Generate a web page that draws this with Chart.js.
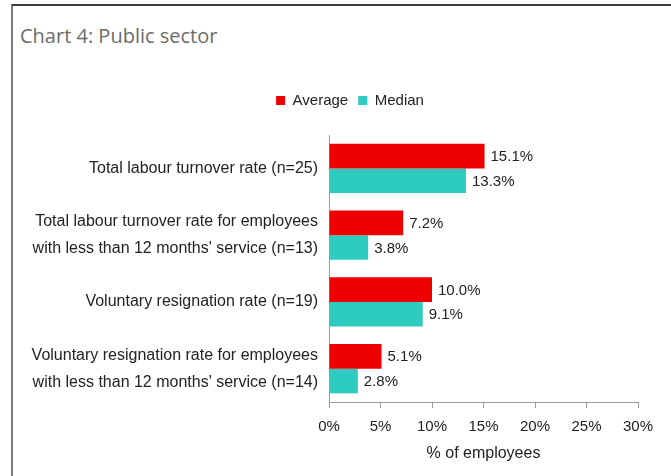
<!DOCTYPE html>
<html>
<head>
<meta charset="utf-8">
<script src="https://cdn.jsdelivr.net/npm/chart.js@4"></script>
<style>
  html, body { margin: 0; padding: 0; background: #fff; }
  #wrap { position: relative; width: 671px; height: 476px; overflow: hidden; }
  #frame {
    position: absolute; left: 11px; top: 4px; right: -4px; bottom: -4px;
    border-top: 2px solid #3c3c3c; border-left: 2px solid #7a7a7a;
  }
  #heading {
    position: absolute; left: 20px; top: 22px;
    font: 20px "Open Sans", "Noto Sans", sans-serif; color: #6b6b6b;
  }
  canvas { position: absolute; left: 0; top: 0; }
</style>
</head>
<body>
<div id="wrap">
  <div id="frame"></div>
  <div id="heading">Chart 4: Public sector</div>
  <canvas id="turnoverChart" width="671" height="476"></canvas>
</div>
<script>
const categories = [
  "Total labour turnover rate (n=25)",
  ["Total labour turnover rate for employees", "with less than 12 months' service (n=13)"],
  "Voluntary resignation rate (n=19)",
  ["Voluntary resignation rate for employees", "with less than 12 months' service (n=14)"]
];
const averageValues = [15.1, 7.2, 10.0, 5.1];
const medianValues = [13.3, 3.8, 9.1, 2.8];
const seriesNames = ["Average", "Median"];
const xTicks = [0, 5, 10, 15, 20, 25, 30];

const baseFont = "'Liberation Sans', Arial, sans-serif";

// a bit more room under the legend, and keep it centred over the plot side
const legendTweak = {
  id: "legendTweak",
  beforeInit(chart) {
    const fit = chart.legend.fit;
    chart.legend.fit = function () {
      fit.bind(chart.legend)();
      this.height += 17;
    };
  },
  afterLayout(chart) {
    chart.legend.left += 62;
  }
};

// value labels at the end of each bar
const barValues = {
  id: "barValues",
  afterDatasetsDraw(chart) {
    const ctx = chart.ctx;
    ctx.save();
    ctx.font = "15px " + baseFont;
    ctx.fillStyle = "#222";
    ctx.textAlign = "left";
    ctx.textBaseline = "middle";
    chart.data.datasets.forEach(function (ds, i) {
      chart.getDatasetMeta(i).data.forEach(function (bar, j) {
        ctx.fillText(ds.data[j].toFixed(1) + "%", bar.x + 6, bar.y + 1);
      });
    });
    ctx.restore();
  }
};

new Chart(document.getElementById("turnoverChart"), {
  type: "bar",
  data: {
    labels: categories,
    datasets: [
      { label: seriesNames[0], data: averageValues, backgroundColor: "#ee0000" },
      { label: seriesNames[1], data: medianValues, backgroundColor: "#2ecbc0" }
    ]
  },
  options: {
    indexAxis: "y",
    responsive: false,
    animation: false,
    categoryPercentage: 0.74,
    barPercentage: 1.0,
    layout: { padding: { left: 0, right: 33, top: 83, bottom: 11 } },
    plugins: {
      tooltip: { enabled: false },
      legend: {
        position: "top",
        labels: {
          boxWidth: 9,
          boxHeight: 9,
          padding: 10,
          color: "#222",
          font: { size: 15, family: baseFont }
        }
      }
    },
    scales: {
      x: {
        min: 0,
        max: 30,
        afterBuildTicks(scale) {
          scale.ticks = xTicks.map(v => ({ value: v }));
        },
        ticks: {
          callback: v => v + "%",
          color: "#222",
          padding: 10,
          maxRotation: 0,
          font: { size: 15, family: baseFont }
        },
        grid: { drawOnChartArea: false, drawTicks: true, tickLength: 6, color: "#9a9a9a" },
        border: { color: "#9a9a9a" },
        title: {
          display: true,
          text: "% of employees",
          color: "#222",
          padding: { top: 0, bottom: 3 },
          font: { size: 16, family: baseFont, lineHeight: 1.0 }
        }
      },
      y: {
        afterFit(scale) {
          scale.width = 329;
        },
        grid: { display: false, drawTicks: false },
        border: { display: true, color: "#9a9a9a" },
        ticks: {
          color: "#222",
          padding: 11,
          font: { size: 16, family: baseFont, lineHeight: 1.69 }
        }
      }
    }
  },
  plugins: [legendTweak, barValues]
});
</script>
</body>
</html>
